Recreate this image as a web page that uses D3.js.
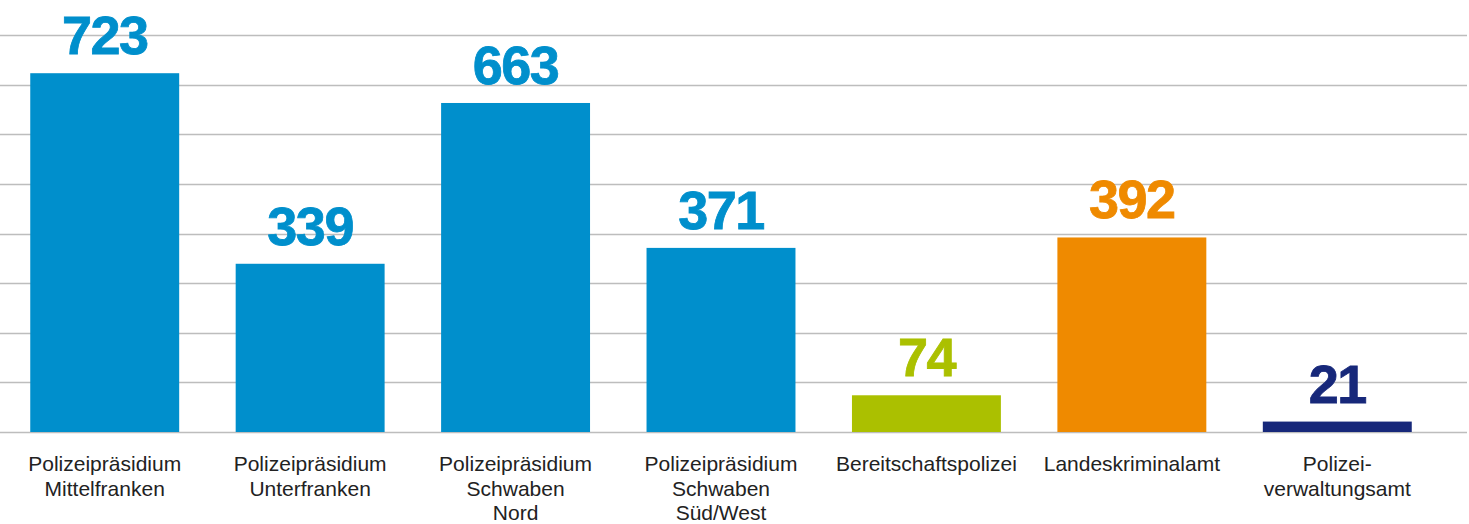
<!DOCTYPE html>
<html>
<head>
<meta charset="utf-8">
<script src="https://cdn.jsdelivr.net/npm/d3@7"></script>
<style>
  body { margin: 0; background: #fff; }
  svg { display: block; }
</style>
</head>
<body>
<div id="chart"></div>
<script>
var categories = [
  ["Polizeipräsidium", "Mittelfranken"],
  ["Polizeipräsidium", "Unterfranken"],
  ["Polizeipräsidium", "Schwaben", "Nord"],
  ["Polizeipräsidium", "Schwaben", "Süd/West"],
  ["Bereitschaftspolizei"],
  ["Landeskriminalamt"],
  ["Polizei-", "verwaltungsamt"]
];
var values = [723, 339, 663, 371, 74, 392, 21];
var colors = ["#008fcc", "#008fcc", "#008fcc", "#008fcc", "#abc000", "#ef8a00", "#17287a"];
var gridTicks = [0, 100, 200, 300, 400, 500, 600, 700, 800];

var w = 1469;
var h = 524;

var svg = d3.select("#chart")
  .append("svg")
  .attr("width", w)
  .attr("height", h);

var xScale = d3.scaleBand()
  .domain(d3.range(values.length))
  .range([2, 1440])
  .paddingInner(0.275)
  .paddingOuter(0.1375);

var yScale = d3.scaleLinear()
  .domain([0, 800])
  .range([432, 35]);

// grid lines
svg.append("g")
  .selectAll("line")
  .data(gridTicks)
  .enter()
  .append("line")
  .attr("x1", 0)
  .attr("x2", 1467)
  .attr("y1", function(d) { return Math.round(yScale(d)) + 0.5; })
  .attr("y2", function(d) { return Math.round(yScale(d)) + 0.5; })
  .attr("stroke", "#bdbdbd")
  .attr("stroke-width", 1.3);

// bars
svg.append("g")
  .selectAll("rect")
  .data(values)
  .enter()
  .append("rect")
  .attr("x", function(d, i) { return xScale(i); })
  .attr("y", function(d) { return yScale(d); })
  .attr("width", xScale.bandwidth())
  .attr("height", function(d) { return yScale(0) - yScale(d); })
  .attr("fill", function(d, i) { return colors[i]; });

// value labels
svg.append("g")
  .selectAll("text")
  .data(values)
  .enter()
  .append("text")
  .text(function(d) { return d; })
  .attr("text-anchor", "middle")
  .attr("x", function(d, i) { return xScale(i) + xScale.bandwidth() / 2; })
  .attr("y", function(d) { return yScale(d) - 19; })
  .attr("font-family", "'Liberation Sans', Arial, sans-serif")
  .attr("font-weight", "bold")
  .attr("font-size", 54)
  .attr("letter-spacing", -1.5)
  .attr("fill", function(d, i) { return colors[i]; })
  .attr("stroke", function(d, i) { return colors[i]; })
  .attr("stroke-width", 0.8);

// category labels
var cat = svg.append("g")
  .selectAll("text")
  .data(categories)
  .enter()
  .append("text")
  .attr("text-anchor", "middle")
  .attr("font-family", "'Liberation Sans', Arial, sans-serif")
  .attr("font-size", 21)
  .attr("fill", "#222")
  .attr("x", function(d, i) { return xScale(i) + xScale.bandwidth() / 2; })
  .attr("y", 471);

cat.selectAll("tspan")
  .data(function(d) { return d; })
  .enter()
  .append("tspan")
  .attr("x", function() { return d3.select(this.parentNode).attr("x"); })
  .attr("dy", function(d, j) { return j === 0 ? 0 : 24.5; })
  .text(function(d) { return d; });
</script>
</body>
</html>
